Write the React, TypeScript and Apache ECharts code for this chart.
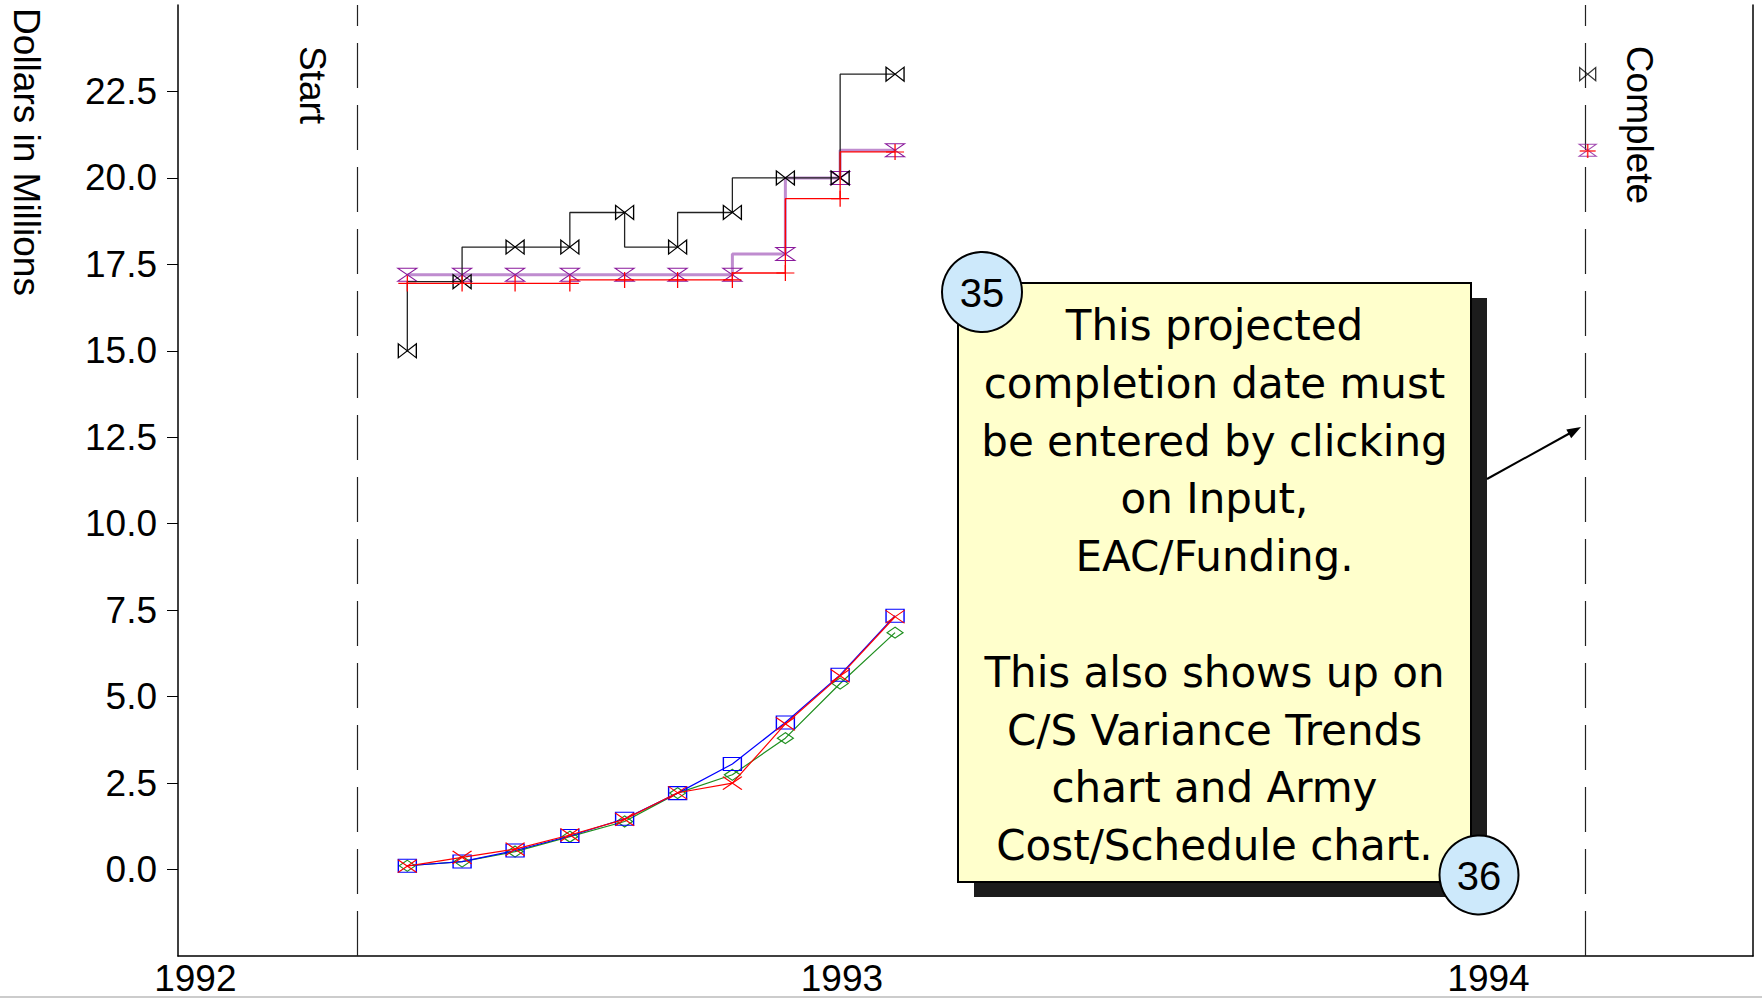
import React, { useEffect, useRef } from "react";
import * as echarts from "echarts";

// ---- Data ----
const monthEnds = [
  "1992-04-30", "1992-05-31", "1992-06-30", "1992-07-31", "1992-08-31",
  "1992-09-30", "1992-10-31", "1992-11-30", "1992-12-31", "1993-01-31",
];
const startDate = "1992-04-01";
const completeDate = "1994-02-26";

// upper (EAC / funding) step series
const eacBlack = [15.0, 17.0, 18.0, 18.0, 19.0, 18.0, 19.0, 20.0, 20.0, 23.0];
const eacPurple = [17.2, 17.2, 17.2, 17.2, 17.2, 17.2, 17.2, 17.8, 20.0, 20.8];
const eacRed = [16.95, 16.95, 16.95, 16.95, 17.05, 17.05, 17.05, 17.25, 19.4, 20.75];
const completeBlack = 23.0;
const completePurple = 20.8;
const completeRed = 20.78;

// lower cumulative series
const cumBlue = [0.11, 0.23, 0.55, 0.97, 1.47, 2.21, 3.05, 4.25, 5.63, 7.34];
const cumRed = [0.1, 0.35, 0.59, 1.0, 1.45, 2.22, 2.5, 4.21, 5.6, 7.31];
const cumGreen = [0.11, 0.23, 0.52, 0.95, 1.39, 2.21, 2.74, 3.8, 5.38, 6.85];

const yearTicks = [1992, 1993, 1994];
const yTicks = [0, 2.5, 5, 7.5, 10, 12.5, 15, 17.5, 20, 22.5];

const calloutText = [
  "This projected",
  "completion date must",
  "be entered by clicking",
  "on Input,",
  "EAC/Funding.",
  "",
  "This also shows up on",
  "C/S Variance Trends",
  "chart and Army",
  "Cost/Schedule chart.",
];

// ---- helpers ----
function toYear(d: string): number {
  const [y, m, dd] = d.split("-").map(Number);
  const s = Date.UTC(y, 0, 1);
  const e = Date.UTC(y + 1, 0, 1);
  return y + (Date.UTC(y, m - 1, dd) - s) / (e - s);
}
const xs = monthEnds.map(toYear);
const pair = (vals: number[]) => vals.map((v, i) => [xs[i], v]);

const SYM = {
  bowtie: "path://M0,0 L20,14 L20,0 L0,14 Z",
  hourglass: "path://M0,0 L20,0 L0,14 L20,14 Z",
  plus: "path://M10,0 L10,16 M0,8 L20,8",
  cross: "path://M0,0 L20,14 M20,0 L0,14",
  square: "path://M0,0 L20,0 L20,14 L0,14 Z",
  diamond: "path://M10,0 L20,7 L10,14 L0,7 Z",
};
const hollow = (c: string, w = 1.2) => ({ color: "rgba(0,0,0,0)", borderColor: c, borderWidth: w });

const FONT = '"Liberation Sans", Arial, sans-serif';

export default function App() {
  const ref = useRef<HTMLDivElement>(null);
  useEffect(() => {
    if (!ref.current) return;
    const chart = echarts.init(ref.current, undefined, { renderer: "svg" });
    const X_MIN = 1991.9732;
    const X_MAX = 1994.4091;
    const xStart = toYear(startDate);
    const xComplete = toYear(completeDate);

    const lineSeries = (name: string, vals: number[], lineColor: string, lw: number, sym: string, size: number[], symColor: string, step?: string, z = 2) => ({
      name,
      type: "line",
      data: pair(vals),
      step: step || false,
      symbol: sym,
      symbolSize: size,
      showAllSymbol: true,
      lineStyle: { color: lineColor, width: lw },
      itemStyle: hollow(symColor),
      z,
      silent: true,
    });

    const option: any = {
      animation: false,
      grid: { left: 178, right: 9, top: 5, bottom: 42 },
      xAxis: {
        type: "value",
        min: X_MIN,
        max: X_MAX,
        axisLine: { show: true, onZero: false, lineStyle: { color: "#000", width: 1.5 } },
        axisTick: { show: false },
        splitLine: { show: false },
        axisLabel: {
          customValues: yearTicks,
          formatter: (v: number) => String(Math.round(v)),
          fontSize: 37,
          fontFamily: FONT,
          color: "#000",
          margin: 4,
        },
      },
      yAxis: [
        {
          type: "value",
          min: -2.5,
          max: 25,
          interval: 2.5,
          axisLine: { show: true, onZero: false, lineStyle: { color: "#000", width: 1.5 } },
          axisTick: { show: true, length: 11, customValues: yTicks, lineStyle: { color: "#000", width: 1 } },
          axisLabel: {
            customValues: yTicks,
            formatter: (v: number) => v.toFixed(1),
            fontSize: 37,
            fontFamily: FONT,
            color: "#000",
            margin: 21,
          },
          splitLine: { show: false },
        },
        {
          type: "value",
          position: "right",
          min: -2.5,
          max: 25,
          interval: 2.5,
          axisLine: { show: true, onZero: false, lineStyle: { color: "#000", width: 1.5 } },
          axisTick: { show: false },
          axisLabel: { show: false },
          splitLine: { show: false },
        },
      ],
      series: [
        {
          ...lineSeries("EAC purple", eacPurple, "#bf8ccf", 3, SYM.hourglass, [19, 13], "#8a1a9c", "start", 2),
          markLine: {
            silent: true,
            symbol: ["none", "none"],
            label: { show: false },
            lineStyle: { color: "#222", width: 1.2, type: [45, 17] },
            data: [{ xAxis: xStart }, { xAxis: xComplete }],
          },
        },
        lineSeries("EAC black", eacBlack, "#222", 1.3, SYM.bowtie, [18, 14], "#000", "start", 3),
        lineSeries("EAC red", eacRed, "#ff0000", 1.3, SYM.plus, [18, 16], "#ff0000", "start", 4),
        {
          type: "scatter",
          silent: true,
          data: [[xComplete, completeBlack]],
          symbol: SYM.bowtie,
          symbolSize: [16, 13],
          itemStyle: hollow("#000"),
          z: 5,
        },
        {
          type: "scatter",
          silent: true,
          data: [[xComplete, completePurple]],
          symbol: SYM.hourglass,
          symbolSize: [17, 12],
          itemStyle: hollow("#8a1a9c"),
          z: 5,
        },
        {
          type: "scatter",
          silent: true,
          data: [[xComplete, completeRed]],
          symbol: SYM.plus,
          symbolSize: [16, 14],
          itemStyle: hollow("#ff0000", 1.5),
          z: 6,
        },
        lineSeries("Cum green", cumGreen, "#1f8f1f", 1.2, SYM.diamond, [16, 11], "#1f8f1f", undefined, 2),
        lineSeries("Cum blue", cumBlue, "#0000ff", 1.2, SYM.square, [18, 13], "#0000ff", undefined, 3),
        lineSeries("Cum red", cumRed, "#ff0000", 1.2, SYM.cross, [19, 13], "#ff0000", undefined, 4),
      ],
      graphic: [
        // axis title and vertical labels
        {
          type: "text", x: 26, y: 152, rotation: -Math.PI / 2, z: 100,
          style: { text: "Dollars in Millions", font: `37px ${FONT}`, fill: "#000", align: "center", verticalAlign: "middle" },
        },
        {
          type: "text", x: 312, y: 85, rotation: -Math.PI / 2, z: 100,
          style: { text: "Start", font: `37px ${FONT}`, fill: "#000", align: "center", verticalAlign: "middle" },
        },
        {
          type: "text", x: 1639, y: 125, rotation: -Math.PI / 2, z: 100,
          style: { text: "Complete", font: `37px ${FONT}`, fill: "#000", align: "center", verticalAlign: "middle" },
        },
        // callout shadow + box
        { type: "rect", z: 100, shape: { x: 974, y: 298, width: 513, height: 599 }, style: { fill: "#1c1c1c" } },
        { type: "rect", z: 101, shape: { x: 958, y: 283, width: 513, height: 599 }, style: { fill: "#ffffcc", stroke: "#000", lineWidth: 2 } },
        {
          type: "text", x: 1214.5, y: 585.5, z: 102,
          style: {
            text: calloutText.join("\n"),
            font: '42px "DejaVu Sans", Verdana, sans-serif',
            lineHeight: 57.8,
            fill: "#000",
            align: "center",
            verticalAlign: "middle",
          },
        },
        // numbered circles
        { type: "circle", z: 103, shape: { cx: 982, cy: 292, r: 40 }, style: { fill: "#cde9fb", stroke: "#000", lineWidth: 2 } },
        { type: "text", x: 982, y: 293, z: 104, style: { text: "35", font: `40px ${FONT}`, fill: "#000", align: "center", verticalAlign: "middle" } },
        { type: "circle", z: 103, shape: { cx: 1479, cy: 875, r: 39.5 }, style: { fill: "#cde9fb", stroke: "#000", lineWidth: 2 } },
        { type: "text", x: 1479, y: 876, z: 104, style: { text: "36", font: `40px ${FONT}`, fill: "#000", align: "center", verticalAlign: "middle" } },
        // arrow
        { type: "line", z: 100, shape: { x1: 1487, y1: 479, x2: 1572, y2: 432 }, style: { stroke: "#000", lineWidth: 2 } },
        { type: "polygon", z: 100, shape: { points: [[1581, 427], [1571.2, 438.2], [1566.3, 429.4]] }, style: { fill: "#000" } },
        // page bottom rule
        { type: "line", z: 100, shape: { x1: 0, y1: 997, x2: 1762, y2: 997 }, style: { stroke: "#999", lineWidth: 1 } },
      ],
    };
    chart.setOption(option);
    return () => chart.dispose();
  }, []);
  return (
    <div
      ref={ref}
      style={{ position: "fixed", left: 0, top: 0, width: 1762, height: 998, background: "#fff" }}
    />
  );
}
